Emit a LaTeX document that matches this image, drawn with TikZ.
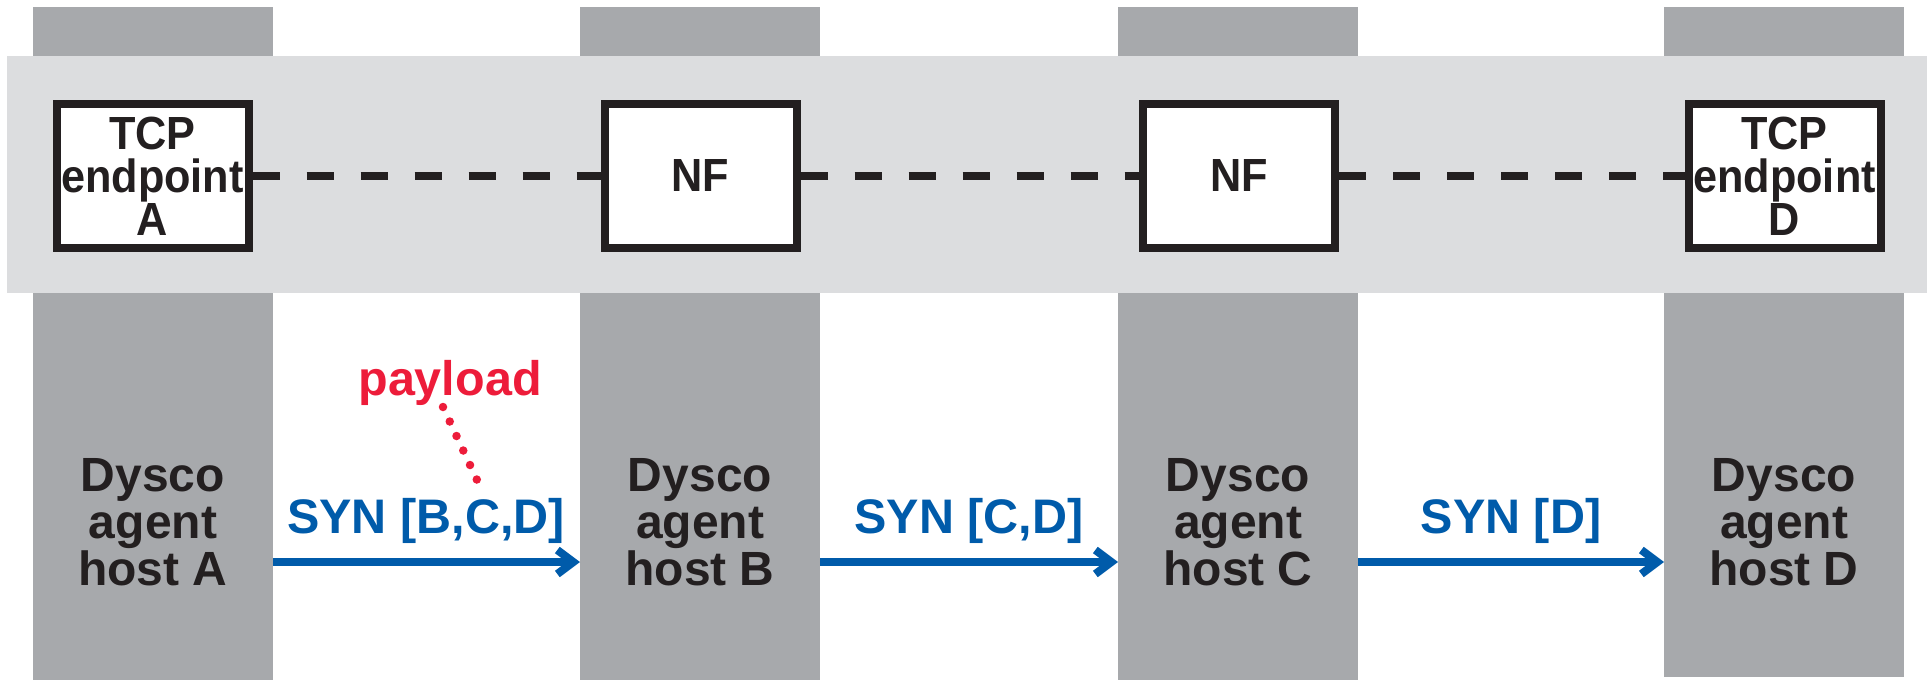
\documentclass[tikz,border=0pt]{standalone}
\usepackage{fontspec}
\setmainfont{Liberation Sans}
\newfontfamily\boxfont{Liberation Sans Bold}[FakeStretch=0.93]
\usetikzlibrary{arrows.meta}
\definecolor{colgray}{HTML}{A7A9AC}
\definecolor{bandgray}{HTML}{DCDDDF}
\definecolor{inkblack}{HTML}{231F20}
\definecolor{synblue}{HTML}{005BAA}
\definecolor{payred}{HTML}{ED1C3A}
\tikzset{
  column/.style={fill=colgray, draw=none},
  epbox/.style={draw=inkblack, fill=white, line width=8pt, minimum width=192pt, minimum height=144pt, inner sep=0pt, align=center, font=\boxfont\fontsize{46.5}{43}\selectfont, text=inkblack},
  hostlabel/.style={anchor=north, inner sep=0pt, align=center, font=\bfseries\fontsize{48}{47}\selectfont, text=inkblack},
  synlabel/.style={anchor=base, inner sep=0pt, font=\bfseries\fontsize{48.5}{48}\selectfont, text=synblue},
  synarrow/.style={draw=synblue, line width=8pt, -{Straight Barb[length=16pt, width=24pt, line width=8pt]}},
  chain/.style={draw=inkblack, line width=8.5pt, dash pattern=on 27pt off 27pt},
  dotline/.style={draw=payred, line width=8.5pt, line cap=round, dash pattern=on 0pt off 16pt}
}
\begin{document}
\begin{tikzpicture}[x=1pt, y=-1pt]
\useasboundingbox (0,0) rectangle (1927,680);
% host columns
\fill[column] (33,7) rectangle (273,680);
\fill[column] (580,7) rectangle (820,680);
\fill[column] (1118,7) rectangle (1358,680);
\fill[column] (1664,7) rectangle (1904,677);
% band
\fill[bandgray] (7,56) rectangle (1927,293);
% boxes
\node[epbox] (epA) at (152.5,176) {TCP\\endpoint\\A};
\node[epbox] (nfB) at (700.5,176) {NF};
\node[epbox] (nfC) at (1239,176) {NF};
\node[epbox] (epD) at (1784.5,176) {TCP\\endpoint\\D};
\draw[chain] (epA.east) -- (nfB.west);
\draw[chain] (nfB.east) -- (nfC.west);
\draw[chain] (nfC.east) -- (epD.west);
% host labels
\node[hostlabel] (hA) at (153,458) {Dysco\\agent\\host A};
\node[hostlabel] (hB) at (700,458) {Dysco\\agent\\host B};
\node[hostlabel] (hC) at (1238,458) {Dysco\\agent\\host C};
\node[hostlabel] (hD) at (1784,458) {Dysco\\agent\\host D};
% arrows
\coordinate (a1s) at (273,562);
\coordinate (a1e) at (580,562);
\coordinate (a2s) at (820,562);
\coordinate (a2e) at (1118,562);
\coordinate (a3s) at (1358,562);
\coordinate (a3e) at (1664,562);
\draw[synarrow] (a1s) -- (a1e);
\draw[synarrow] (a2s) -- (a2e);
\draw[synarrow] (a3s) -- (a3e);
\node[synlabel] (s1) at (426,533) {SYN [B,C,D]};
\node[synlabel] (s2) at (969,533) {SYN [C,D]};
\node[synlabel] (s3) at (1511,533) {SYN [D]};
% payload
\node[anchor=base, inner sep=0pt, font=\bfseries\fontsize{48.5}{48}\selectfont, text=payred] (pl) at (450,395) {payload};
\coordinate (pls) at (443,407);
\coordinate (ple) at (477,480);
\draw[dotline] (pls) -- (ple);
\end{tikzpicture}
\end{document}
